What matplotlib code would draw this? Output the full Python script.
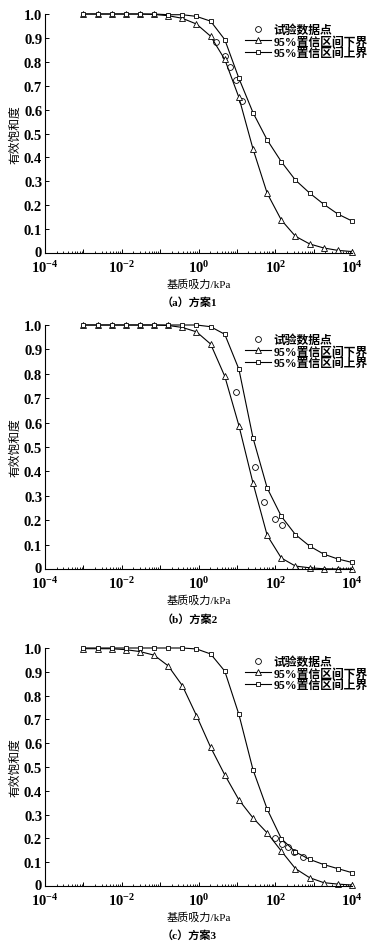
import numpy as np
import matplotlib
matplotlib.use("Agg")
import matplotlib.pyplot as plt
import matplotlib.transforms as mtransforms
from matplotlib.ticker import LogLocator, NullFormatter

plt.rcParams["font.family"] = ["Liberation Serif", "Noto Sans CJK SC"]
plt.rcParams["font.weight"] = "bold"
plt.rcParams["mathtext.fontset"] = "custom"
plt.rcParams["mathtext.rm"] = "Liberation Serif:bold"
plt.rcParams["mathtext.default"] = "rm"

# matric suction at the bound markers: 20 points, 1e-3 .. 1e4 kPa
suction = np.logspace(-3, 4, 20)

# scheme 1
lower_1 = [1.0, 1.0, 1.0, 1.0, 1.0, 0.998, 0.993, 0.982, 0.958, 0.907,
           0.81, 0.651, 0.435, 0.25, 0.138, 0.07, 0.038, 0.021, 0.011, 0.006]
upper_1 = [1.0, 1.0, 1.0, 1.0, 1.0, 1.0, 0.997, 0.997, 0.99, 0.97,
           0.893, 0.731, 0.587, 0.473, 0.382, 0.305, 0.251, 0.204, 0.163, 0.134]
test_x_1 = [2.89, 4.76, 6.7, 9.6, 14.0]
test_y_1 = [0.884, 0.823, 0.777, 0.725, 0.637]

# scheme 2
lower_2 = [1.0, 1.0, 1.0, 1.0, 1.0, 1.0, 0.998, 0.99, 0.972, 0.922,
           0.79, 0.588, 0.352, 0.138, 0.045, 0.012, 0.005, 0.001, 0.0, 0.0]
upper_2 = [1.0, 1.0, 1.0, 1.0, 1.0, 1.0, 1.0, 1.0, 1.0, 0.993,
           0.962, 0.819, 0.537, 0.332, 0.216, 0.141, 0.094, 0.061, 0.041, 0.027]
test_x_2 = [9.6, 29.6, 50.7, 100.0, 149.0]
test_y_2 = [0.726, 0.416, 0.276, 0.205, 0.18]

# scheme 3
lower_3 = [0.997, 0.997, 0.997, 0.993, 0.985, 0.97, 0.925, 0.842, 0.716, 0.583,
           0.467, 0.362, 0.286, 0.223, 0.147, 0.073, 0.035, 0.014, 0.008, 0.004]
upper_3 = [1.0, 1.0, 1.0, 1.0, 1.0, 1.0, 1.0, 1.0, 0.996, 0.975,
           0.903, 0.721, 0.488, 0.323, 0.199, 0.143, 0.112, 0.09, 0.073, 0.056]
test_x_3 = [100.0, 149.0, 210.0, 313.0, 516.0]
test_y_3 = [0.203, 0.178, 0.163, 0.143, 0.122]

panels = [
    (lower_1, upper_1, test_x_1, test_y_1, "（a）方案1"),
    (lower_2, upper_2, test_x_2, test_y_2, "（b）方案2"),
    (lower_3, upper_3, test_x_3, test_y_3, "（c）方案3"),
]

yticks = [0, 0.1, 0.2, 0.3, 0.4, 0.5, 0.6, 0.7, 0.8, 0.9, 1.0]
ytick_labels = ["0", "0.1", "0.2", "0.3", "0.4", "0.5", "0.6", "0.7", "0.8", "0.9", "1.0"]
xticks = np.logspace(-4, 4, 9)
xtick_labels = ["$10^{-4}$", "", "$10^{-2}$", "", "$10^{0}$", "",
                "$10^{2}$", "", "$10^{4}$"]

W, H = 381, 953
fig = plt.figure(figsize=(W / 100, H / 100), dpi=100)

# (top, bottom, legend top) in pixels
boxes = [(15, 254, 25), (326, 570, 335), (649, 887, 657)]

for (lo, up, tx, ty, cap), (top, bot, leg_top) in zip(panels, boxes):
    ax = fig.add_axes([45 / W, 1 - bot / H, (352 - 45) / W, (bot - top) / H])
    ax.plot(tx, ty, "o", ls="none", mfc="none", mec="black", ms=4.2, mew=0.6,
            label="试验数据点", clip_on=False)
    ax.plot(suction, lo, "-^", color="black", lw=0.8, mfc="white", ms=3.8,
            mew=0.6, label="95%置信区间下界", clip_on=False)
    ax.plot(suction, up, "-s", color="black", lw=0.8, mfc="white", ms=3.5,
            mew=0.6, label="95%置信区间上界", clip_on=False)

    ax.set_xscale("log")
    ax.set_xlim(1e-4, 1e4)
    ax.set_ylim(0, 1.0)
    ax.spines["top"].set_visible(False)
    ax.spines["right"].set_visible(False)
    for s in ("left", "bottom"):
        ax.spines[s].set_linewidth(0.8)

    ax.set_xticks(xticks)
    ax.set_xticklabels(xtick_labels)
    ax.xaxis.set_minor_locator(LogLocator(base=10, subs=np.arange(2, 10), numticks=20))
    ax.xaxis.set_minor_formatter(NullFormatter())
    ax.set_yticks(yticks)
    ax.set_yticklabels(ytick_labels)
    ax.tick_params(axis="both", which="major", direction="in", length=3, width=0.7,
                   labelsize=10.5)
    ax.tick_params(axis="x", which="major", pad=4.5)
    ax.tick_params(axis="x", which="minor", direction="in", length=1.8, width=0.6)
    ax.tick_params(axis="y", which="major", pad=2)
    # nudge the "0" label up a little so it clears 10^-4
    zero_lab = ax.get_yticklabels()[0]
    zero_lab.set_transform(zero_lab.get_transform() +
                           mtransforms.ScaledTranslation(0, 2 / 100, fig.dpi_scale_trans))

    ax.set_ylabel("有效饱和度", fontsize=8.5, labelpad=2)
    ax.set_xlabel("基质吸力/kPa", fontsize=8, labelpad=2)
    ax.text(0.47, -0.18, cap, transform=ax.transAxes, ha="center", va="top",
            fontsize=8)

    ax.legend(loc="upper left", bbox_to_anchor=(245 / W, 1 - leg_top / H),
              bbox_transform=fig.transFigure, frameon=False, fontsize=8.5,
              handlelength=2.2, handletextpad=0.2, labelspacing=-0.05,
              borderpad=0, borderaxespad=0)

fig.savefig("out.png", dpi=100)
